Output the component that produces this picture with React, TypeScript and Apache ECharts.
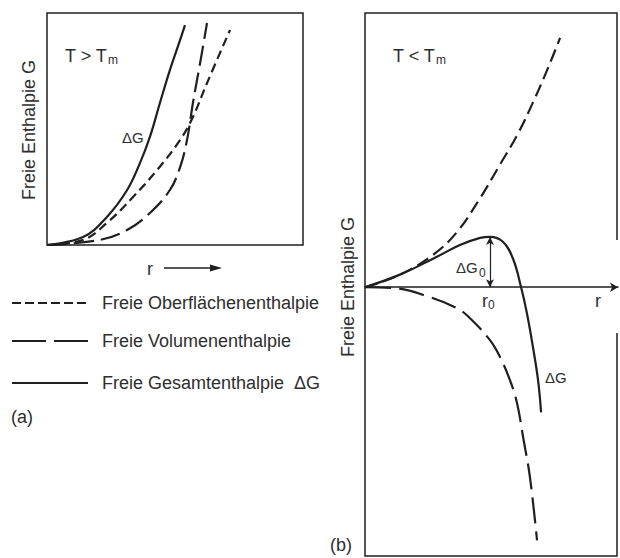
import React, { useEffect, useRef } from "react";
import * as echarts from "echarts";

// Panel (a): T > Tm  (x: radius r, y: free enthalpy G, arbitrary units 0..100)
const aSurfR = [0, 14.1, 23.4, 33.6, 43.0, 52.0, 57.0, 62.5, 71.5];
const aSurfG = [0, 2.2, 9.5, 20.7, 32.3, 45.3, 55.2, 69.8, 92.7];
const aVolR = [0, 20.7, 31.3, 40.2, 48.0, 52.0, 54.7, 57.0, 59.8, 62.5];
const aVolG = [0, 2.2, 6.5, 13.8, 23.7, 33.6, 45.3, 61.2, 78.4, 95.7];
const aTotR = [0, 14.1, 23.4, 31.3, 36.3, 40.2, 44.1, 48.0, 52.0, 53.9];
const aTotG = [0, 3.4, 12.1, 23.7, 35.3, 46.6, 61.2, 75.4, 88.4, 94.8];

// Panel (b): T < Tm
const bSurfR = [0, 13.8, 26.9, 36.4, 45.5, 53.4, 60.1, 66.4, 71.9, 77.1];
const bSurfG = [0, 4.6, 11.8, 20.2, 32.5, 44.8, 55.4, 67.4, 79.0, 90.9];
const bVolR = [0, 11.1, 25.7, 36.4, 41.5, 49.4, 53.4, 57.3, 60.1, 62.5, 65.2, 68.0];
const bVolG = [0, -0.3, -3.6, -7.7, -11.3, -19.3, -25.5, -33.9, -42.3, -54.7, -69.3, -92.3];
const bTotR = [0, 13.8, 26.9, 37.5, 45.5, 49.4, 54.5, 58.5, 61.7, 64.0, 66.4, 68.4, 69.6];
const bTotG = [0, 4.6, 10.4, 15.4, 18.0, 18.4, 16.6, 10.4, 0, -9.5, -21.9, -33.9, -45.6];

// critical radius r0 and barrier ΔG0
const r0 = [49.4];
const dG0 = [18.3];

const legendLabels = [
  "Freie Oberflächenenthalpie",
  "Freie Volumenenthalpie",
  "Freie Gesamtenthalpie  ΔG",
];

const zip = (xs: number[], ys: number[]) => xs.map((x, i) => [x, ys[i]]);

const INK = "#1f1f1f";
const TXT = "#2e2e2e";
const FONT = "'Liberation Sans', Arial, Helvetica, sans-serif";

function txt(x: number, y: number, text: string, size = 18, extra: any = {}) {
  return {
    type: "text",
    x,
    y,
    silent: true,
    ...extra,
    style: {
      text,
      fill: TXT,
      font: `${size}px ${FONT}`,
      align: "left",
      verticalAlign: "middle",
      ...(extra.style || {}),
    },
  };
}

export default function App() {
  const ref = useRef<HTMLDivElement>(null);
  useEffect(() => {
    if (!ref.current) return;
    const chart = echarts.init(ref.current, undefined, { renderer: "svg" });
    const line = (
      data: number[][],
      axis: number,
      dash: any,
      extra: any = {}
    ) => ({
      type: "line",
      xAxisIndex: axis,
      yAxisIndex: axis,
      data,
      showSymbol: false,
      symbol: "none",
      smooth: 0.4,
      silent: true,
      lineStyle: { color: INK, width: 2.2, type: dash },
      ...extra,
    });

    chart.setOption({
      animation: false,
      backgroundColor: "#ffffff",
      grid: [
        {
          left: 47,
          top: 13,
          width: 256,
          height: 232,
          show: true,
          borderColor: INK,
          borderWidth: 1.5,
          backgroundColor: "transparent",
        },
        { left: 365, top: 13, width: 253, height: 543 },
      ],
      xAxis: [
        { gridIndex: 0, type: "value", min: 0, max: 100, show: false },
        {
          gridIndex: 1,
          type: "value",
          min: 0,
          max: 100,
          axisLine: {
            show: true,
            onZero: true,
            symbol: ["none", "arrow"],
            symbolSize: [7, 8],
            lineStyle: { color: INK, width: 1.5 },
          },
          axisTick: { show: false },
          axisLabel: { show: false },
          splitLine: { show: false },
        },
      ],
      yAxis: [
        { gridIndex: 0, type: "value", min: 0, max: 100, show: false },
        {
          gridIndex: 1,
          type: "value",
          min: -98,
          max: 100,
          axisLine: { show: false },
          axisTick: { show: false },
          axisLabel: { show: false },
          splitLine: { show: false },
        },
      ],
      series: [
        line(zip(aSurfR, aSurfG), 0, [9, 5]),
        line(zip(aVolR, aVolG), 0, [20, 7]),
        line(zip(aTotR, aTotG), 0, "solid"),
        line(zip(bSurfR, bSurfG), 1, [13, 6]),
        line(zip(bVolR, bVolG), 1, [26, 8]),
        line(zip(bTotR, bTotG), 1, "solid", {
          markLine: {
            silent: true,
            symbol: ["arrow", "arrow"],
            symbolSize: [6, 8],
            label: { show: false },
            lineStyle: { color: INK, width: 1.2, type: "solid" },
            data: [[{ coord: [r0[0], 0] }, { coord: [r0[0], dG0[0]] }]],
          },
        }),
      ],
      graphic: [
        // frame of panel (b), open on the right where the r axis leaves
        {
          type: "polyline",
          silent: true,
          shape: {
            points: [
              [617, 240],
              [617, 13],
              [365, 13],
              [365, 556],
              [617, 556],
              [617, 333],
            ],
          },
          style: { stroke: INK, lineWidth: 1.5, fill: null },
        },
        // axis titles
        txt(29, 130, "Freie Enthalpie G", 18, {
          rotation: Math.PI / 2,
          style: { align: "center" },
        }),
        txt(348, 287, "Freie Enthalpie G", 18, {
          rotation: Math.PI / 2,
          style: { align: "center" },
        }),
        // panel (a) annotations
        txt(65, 56, "T > T"),
        txt(108, 60, "m", 12),
        txt(122, 137, "ΔG", 15),
        txt(147, 269, "r"),
        {
          type: "line",
          silent: true,
          shape: { x1: 164, y1: 268, x2: 213, y2: 268 },
          style: { stroke: INK, lineWidth: 1.5 },
        },
        {
          type: "polygon",
          silent: true,
          shape: { points: [[210, 264.5], [222, 268], [210, 271.5]] },
          style: { fill: INK },
        },
        // panel (b) annotations
        txt(393, 56, "T < T"),
        txt(436, 60, "m", 12),
        txt(456, 267, "ΔG", 15),
        txt(479, 273, "0", 12),
        txt(482, 301, "r", 18),
        txt(488, 305, "0", 12),
        txt(595, 301, "r", 18),
        txt(545, 377, "ΔG", 15),
        txt(330, 545, "(b)"),
        // legend
        {
          type: "line",
          silent: true,
          shape: { x1: 12, y1: 303, x2: 88, y2: 303 },
          style: { stroke: INK, lineWidth: 2, lineDash: [9, 4] },
        },
        {
          type: "line",
          silent: true,
          shape: { x1: 12, y1: 341, x2: 88, y2: 341 },
          style: { stroke: INK, lineWidth: 2, lineDash: [34, 8] },
        },
        {
          type: "line",
          silent: true,
          shape: { x1: 12, y1: 383, x2: 88, y2: 383 },
          style: { stroke: INK, lineWidth: 2 },
        },
        txt(102, 303, legendLabels[0]),
        txt(102, 341, legendLabels[1]),
        txt(102, 383, legendLabels[2]),
        txt(11, 417, "(a)"),
      ],
    });
    return () => chart.dispose();
  }, []);
  return (
    <div
      ref={ref}
      style={{ position: "fixed", left: 0, top: 0, width: 620, height: 558 }}
    />
  );
}
